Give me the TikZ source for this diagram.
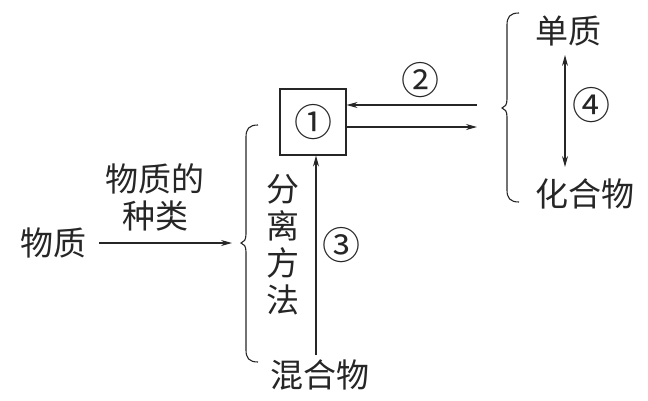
\documentclass[tikz,border=0pt]{standalone}
\usepackage{fontspec}
\setmainfont{Noto Sans CJK SC}
\usetikzlibrary{arrows.meta}
\tikzset{
  lbl/.style={inner sep=0pt, font=\fontsize{33}{37}\selectfont, text=black!85},
  num/.style={inner sep=0pt, font=\fontsize{38}{40}\selectfont, text=black!85},
  conn/.style={line width=1.1pt, draw=black!85, -{Stealth[length=11pt,width=6pt]}},
  brc/.style={line width=1.1pt, draw=black!85},
}
\begin{document}
\begin{tikzpicture}[x=1pt,y=-1pt]
\useasboundingbox (0,0) rectangle (648,400);
% left part
\node[lbl] (wz) at (53,243) {物质};
\node[lbl, align=center] (zl) at (155,197) {物质的\\种类};
\coordinate (lb) at (238,243);
\draw[conn] (wz.east) ++(13,0) coordinate (wzs) -- (lb -| 232,0);
% left brace
\draw[brc] (258,125) .. controls (249,125) and (246,129) .. (246,137)
  -- (246,234) .. controls (246,240) and (244,242) .. (241,243)
  .. controls (244,244) and (246,246) .. (246,252)
  -- (246,350) .. controls (246,358) and (249,362) .. (258,362);
\node[lbl, align=center] (fl) at (283,245) {分\\离\\方\\法};
\node[lbl] (hh) at (320,375) {混合物};
% box
\node[draw=black!85, line width=1.1pt, minimum width=66pt, minimum height=66pt, inner sep=0pt] (box) at (313,122) {};
\node[num] (n1) at (box.center) {①};
\coordinate (b3) at (316,355);
\draw[conn] (b3) -- (b3 |- box.south);
\node[num] (n3) at (341,245) {③};
% arrows to right
\coordinate (r1) at (477,105);
\coordinate (r2) at (477,127);
\draw[conn] (r1) -- (r1 -| box.east);
\draw[conn] (r2 -| box.east) -- (r2);
\node[num] (n2) at (420,80) {②};
% right brace
\draw[brc] (519,13) .. controls (510,13) and (507,17) .. (507,25)
  -- (507,99) .. controls (507,105) and (505,107) .. (502,108)
  .. controls (505,109) and (507,111) .. (507,117)
  -- (507,190) .. controls (507,198) and (510,202) .. (519,202);
\node[lbl] (dz) at (568,31) {单质};
\node[lbl] (hhw) at (585,194) {化合物};
\coordinate (d1) at (565,55);
\coordinate (d2) at (565,167);
\draw[conn, {Stealth[length=11pt,width=6pt]}-{Stealth[length=11pt,width=6pt]}] (d1) -- (d2);
\node[num] (n4) at (591,105) {④};
\end{tikzpicture}
\end{document}
